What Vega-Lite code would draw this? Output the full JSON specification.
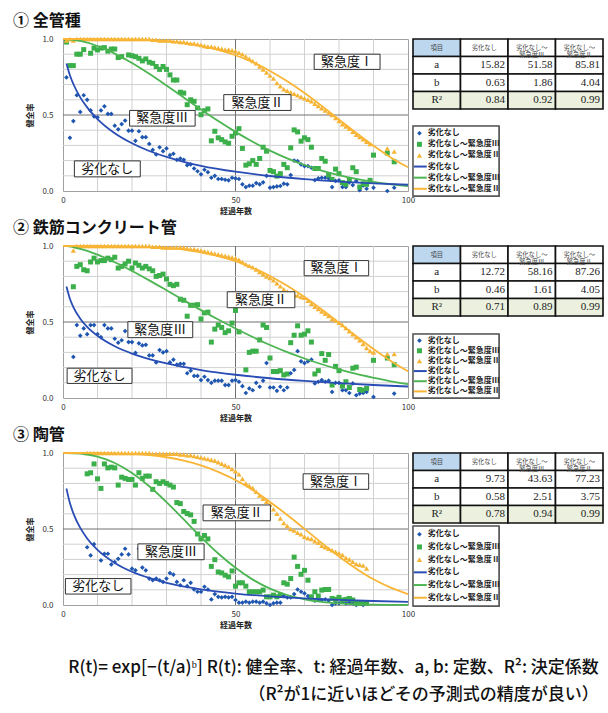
{
"$schema": "https://vega.github.io/schema/vega-lite/v6.json",
"padding": {"left": 12, "top": 12, "right": 2, "bottom": 2},
"bounds": "flush",
"spacing": 207,
"config": {
  "font": "Noto Sans CJK JP",
  "view": {"stroke": "#a0a0a0"},
  "axis": {"labelFontSize": 8, "titleFontSize": 8, "labelColor": "#333", "titleColor": "#222", "titleFontWeight": "bold", "labelFlush": false, "labelOverlap": false, "labelBound": false}
},
"title": {"text": ["R(t)= exp[−(t/a)ᵇ]   R(t): 健全率、t: 経過年数、a, b: 定数、R²: 決定係数", "（R²が1に近いほどその予測式の精度が良い）"], "orient": "bottom", "anchor": "end", "dx": -5, "fontSize": 17, "fontWeight": 500, "lineHeight": 27, "offset": 30, "color": "#111", "font": "Noto Sans CJK JP"},
"datasets": {
"gx": [{"g":10},{"g":20},{"g":30},{"g":40},{"g":50},{"g":60},{"g":70},{"g":80},{"g":90}],
"gy": [{"g":0.1},{"g":0.2},{"g":0.3},{"g":0.4},{"g":0.5},{"g":0.6},{"g":0.7},{"g":0.8},{"g":0.9}],
"leg": [{"k":"a","lab":"劣化なし"},{"k":"b","lab":"劣化なし～緊急度Ⅲ"},{"k":"c","lab":"劣化なし～緊急度Ⅱ"},{"k":"la","lab":"劣化なし"},{"k":"lb","lab":"劣化なし～緊急度Ⅲ"},{"k":"lc","lab":"劣化なし～緊急度Ⅱ"}],
"p1": [
{"t":1,"a":0.747,"b":0.98,"c":0.99},{"t":2,"a":0.35,"b":0.825,"c":1},{"t":3,"a":0.46,"b":0.825,"c":0.99},{"t":4,"a":0.63,"b":0.9,"c":1},{"t":5,"a":0.52,"b":0.9,"c":1},{"t":6,"a":0.63,"b":0.93,"c":1},{"t":7,"a":0.6,"c":1},{"t":8,"a":0.53,"b":0.906,"c":1},{"t":9,"a":0.49,"b":0.94,"c":1},{"t":10,"a":0.485,"b":0.928,"c":1},
{"t":11,"a":0.53,"b":0.94,"c":1},{"t":12,"a":0.557,"b":0.943,"c":1},{"t":13,"a":0.507,"b":0.92,"c":1},{"t":14,"a":0.507,"b":0.934,"c":1},{"t":15,"a":0.43,"b":0.934,"c":1},{"t":16,"a":0.406,"b":0.878,"c":1},{"t":17,"a":0.44,"b":0.884,"c":1},{"t":18,"a":0.463,"c":1},{"t":19,"a":0.397,"b":0.895,"c":1},{"t":20,"a":0.397,"b":0.89,"c":1},
{"t":21,"a":0.33,"b":0.884,"c":1},{"t":22,"a":0.393,"b":0.873,"c":1},{"t":23,"a":0.354,"b":0.856,"c":1},{"t":24,"a":0.354,"b":0.869,"c":1},{"t":25,"a":0.31,"b":0.847,"c":1},{"t":26,"a":0.27,"b":0.84,"c":0.995},{"t":27,"a":0.24,"b":0.819,"c":0.995},{"t":28,"a":0.288,"b":0.8,"c":0.99},{"t":29,"a":0.262,"b":0.819,"c":0.99},{"t":30,"a":0.28,"b":0.8,"c":0.99},
{"t":31,"a":0.236,"b":0.764,"c":0.99},{"t":32,"a":0.245,"b":0.73,"c":0.985},{"t":33,"a":0.205,"b":0.73,"c":0.985},{"t":34,"a":0.214,"b":0.65,"c":0.98},{"t":35,"a":0.205,"b":0.644,"c":0.98},{"t":36,"a":0.17,"b":0.568,"c":0.975},{"t":37,"a":0.175,"b":0.6,"c":0.97},{"t":38,"a":0.148,"b":0.59,"c":0.97},{"t":39,"a":0.13,"b":0.546,"c":0.965},{"t":40,"a":0.11,"b":0.502,"c":0.96},
{"t":41,"a":0.14,"b":0.528,"c":0.955},{"t":42,"a":0.124,"b":0.54,"c":0.95},{"t":43,"a":0.087,"b":0.33,"c":0.95},{"t":44,"a":0.1,"b":0.393,"c":0.945},{"t":45,"a":0.079,"b":0.35,"c":0.94},{"t":46,"a":0.079,"b":0.338,"c":0.935},{"t":47,"a":0.074,"b":0.323,"c":0.93},{"t":48,"a":0.07,"b":0.314,"c":0.93},{"t":49,"a":0.087,"b":0.36,"c":0.925},{"t":50,"a":0.083,"b":0.382,"c":0.92},
{"t":51,"a":0.079,"b":0.41,"c":0.91},{"t":52,"a":0.044,"b":0.28,"c":0.9},{"t":53,"a":0.026,"b":0.17,"c":0.885},{"t":54,"a":0.035,"b":0.179,"c":0.87},{"t":55,"a":0.035,"b":0.2,"c":0.855},{"t":56,"a":0.052,"b":0.175,"c":0.84},{"t":57,"a":0.044,"b":0.214,"c":0.82},{"t":58,"a":0.057,"b":0.288,"c":0.8},{"t":59,"a":0.1,"b":0.262,"c":0.78},{"t":60,"a":0.022,"b":0.135,"c":0.76},
{"t":61,"a":0.026,"b":0.127,"c":0.74},{"t":62,"a":0.03,"b":0.098,"c":0.71},{"t":63,"a":0.033,"b":0.114,"c":0.69},{"t":64,"a":0.048,"b":0.175,"c":0.67},{"t":65,"a":0.044,"b":0.153,"c":0.66},{"t":66,"a":0.105,"b":0.284,"c":0.65},{"t":67,"a":0.2,"b":0.402,"c":0.64},{"t":68,"a":0.196,"b":0.389,"c":0.63},{"t":69,"a":0.175,"b":0.328,"c":0.62},{"t":70,"a":0.164,"b":0.35,"c":0.61},
{"t":71,"a":0.164,"b":0.338,"c":0.6},{"t":72,"a":0.153,"b":0.288,"c":0.59},{"t":73,"a":0.072,"b":0.148,"c":0.575},{"t":74,"a":0.083,"b":0.148,"c":0.56},{"t":75,"a":0.087,"b":0.214,"c":0.545},{"t":76,"a":0.087,"b":0.196,"c":0.53},{"t":77,"a":0.083,"b":0.105,"c":0.515},{"t":78,"a":0.026,"b":0.076,"c":0.5},{"t":79,"a":0.066,"b":0.144,"c":0.48},{"t":80,"a":0.07,"b":0.114,"c":0.46},
{"t":81,"a":0.026,"b":0.055,"c":0.44},{"t":82,"a":0.026,"b":0.044,"c":0.425},{"t":83,"a":0.057,"b":0.076,"c":0.41},{"t":84,"a":0.039,"b":0.153,"c":0.39},{"t":85,"a":0.066,"b":0.127,"c":0.37},{"t":86,"a":0.005,"b":0.026,"c":0.355},{"t":87,"a":0.037,"b":0.048,"c":0.34},{"t":88,"a":0.015,"b":0.044,"c":0.325},{"t":89,"b":0.07,"c":0.31},{"t":90,"a":0.022,"b":0.236},
{"t":94,"a":0,"b":0.249,"c":0.28},{"t":96,"a":0.022,"b":0.192,"c":0.26}
],
"p2": [
{"t":3,"a":0.27,"b":0.732,"c":0.97},{"t":4,"a":0.48,"b":0.866,"c":1},{"t":5,"a":0.41,"b":0.877,"c":1},{"t":6,"a":0.458,"b":0.844,"c":1},{"t":7,"a":0.42,"b":0.837,"c":1},{"t":8,"a":0.48,"b":0.895,"c":1},{"t":9,"a":0.48,"b":0.92,"c":1},{"t":10,"a":0.42,"b":0.895,"c":1},
{"t":11,"a":0.4,"b":0.904,"c":1},{"t":12,"a":0.48,"b":0.904,"c":1},{"t":13,"a":0.458,"b":0.92,"c":1},{"t":14,"a":0.458,"b":0.91,"c":1},{"t":15,"a":0.39,"b":0.926,"c":1},{"t":16,"a":0.364,"b":0.855,"c":1},{"t":17,"a":0.38,"b":0.866,"c":1},{"t":18,"a":0.44,"b":0.882,"c":1},{"t":19,"a":0.368,"b":0.9,"c":1},{"t":20,"a":0.368,"b":0.855,"c":1},
{"t":21,"a":0.297,"b":0.888,"c":1},{"t":22,"a":0.36,"b":0.873,"c":1},{"t":23,"a":0.346,"b":0.855,"c":1},{"t":24,"a":0.35,"b":0.866,"c":1},{"t":25,"a":0.28,"b":0.85,"c":1},{"t":26,"a":0.28,"b":0.837,"c":0.995},{"t":27,"a":0.234,"b":0.8,"c":0.995},{"t":28,"a":0.315,"b":0.806,"c":0.995},{"t":29,"a":0.3,"b":0.815,"c":0.99},{"t":30,"a":0.308,"b":0.783,"c":0.99},
{"t":31,"a":0.234,"b":0.748,"c":0.99},{"t":32,"a":0.252,"b":0.739,"c":0.99},{"t":33,"a":0.219,"b":0.748,"c":0.99},{"t":34,"a":0.225,"b":0.65,"c":0.99},{"t":35,"a":0.225,"b":0.643,"c":0.99},{"t":36,"a":0.163,"b":0.538,"c":0.985},{"t":37,"a":0.18,"b":0.61,"c":0.98},{"t":38,"a":0.145,"b":0.61,"c":0.98},{"t":39,"a":0.145,"b":0.614,"c":0.975},{"t":40,"a":0.118,"b":0.52,"c":0.97},
{"t":41,"a":0.14,"b":0.56,"c":0.965},{"t":42,"a":0.118,"b":0.565,"c":0.96},{"t":43,"a":0.1,"b":0.368,"c":0.955},{"t":44,"a":0.114,"b":0.453,"c":0.95},{"t":45,"a":0.114,"b":0.48,"c":0.945},{"t":46,"a":0.114,"b":0.464,"c":0.94},{"t":47,"a":0.085,"b":0.43,"c":0.935},{"t":48,"a":0.085,"b":0.442,"c":0.93},{"t":49,"a":0.114,"b":0.493,"c":0.925},{"t":50,"a":0.118,"b":0.576,"c":0.92},
{"t":51,"a":0.107,"b":0.435,"c":0.91},{"t":52,"a":0.078,"c":0.895},{"t":53,"a":0.033,"b":0.185,"c":0.88},{"t":54,"a":0.063,"b":0.3,"c":0.87},{"t":55,"a":0.051,"b":0.308,"c":0.86},{"t":56,"a":0.1,"b":0.308,"c":0.845},{"t":57,"a":0.074,"b":0.382,"c":0.83},{"t":58,"a":0.114,"b":0.48,"c":0.815},{"t":59,"a":0.23,"b":0.464,"c":0.8},{"t":60,"a":0.069,"b":0.263,"c":0.79},
{"t":61,"a":0.069,"b":0.174,"c":0.775},{"t":62,"a":0.047,"b":0.174,"c":0.755},{"t":63,"a":0.074,"b":0.18,"c":0.735},{"t":64,"a":0.051,"b":0.152,"c":0.715},{"t":65,"a":0.069,"b":0.158,"c":0.7},{"t":66,"a":0.163,"b":0.364,"c":0.69},{"t":67,"a":0.185,"b":0.413,"c":0.68},{"t":68,"a":0.308,"b":0.475,"c":0.675},{"t":69,"a":0.241,"b":0.413,"c":0.665},{"t":70,"a":0.23,"b":0.42,"c":0.66},
{"t":71,"a":0.241,"b":0.442,"c":0.64},{"t":72,"a":0.252,"b":0.368,"c":0.62},{"t":73,"a":0.096,"b":0.158,"c":0.6},{"t":74,"a":0.107,"b":0.18,"c":0.585},{"t":75,"a":0.118,"b":0.292,"c":0.57},{"t":76,"a":0.107,"b":0.248,"c":0.555},{"t":77,"a":0.114,"b":0.286,"c":0.54},{"t":78,"a":0.04,"b":0.085,"c":0.52},{"t":79,"a":0.1,"b":0.208,"c":0.51},{"t":80,"a":0.1,"b":0.18,"c":0.495},
{"t":81,"a":0.051,"b":0.078,"c":0.48},{"t":82,"a":0.051,"b":0.107,"c":0.46},{"t":83,"a":0.033,"b":0.069,"c":0.44},{"t":84,"a":0.096,"b":0.196,"c":0.42},{"t":85,"a":0.018,"b":0.203,"c":0.4},{"t":86,"a":0.029,"b":0.056,"c":0.38},{"t":87,"a":0.033,"b":0.051,"c":0.355},{"t":88,"a":0.04,"b":0.063,"c":0.33},{"t":89,"c":0.31},{"t":90,"a":0.007,"b":0.248,"c":0.3},
{"t":94,"b":0.263,"c":0.29},{"t":96,"a":0.029,"b":0.219,"c":0.29}
],
"p3": [
{"t":7,"a":0.38,"b":0.863,"c":1},{"t":8,"a":0.326,"b":0.87,"c":1},{"t":9,"a":0.4,"b":0.928,"c":1},{"t":10,"b":0.83,"c":1},
{"t":11,"a":0.293,"b":0.767,"c":1},{"t":12,"a":0.337,"b":0.928,"c":1},{"t":13,"a":0.337,"b":0.902,"c":1},{"t":14,"a":0.267,"b":0.907,"c":1},{"t":15,"a":0.283,"b":0.902,"c":1},{"t":16,"a":0.304,"b":0.789,"c":1},{"t":17,"a":0.333,"b":0.841,"c":1},{"t":18,"a":0.37,"b":0.833,"c":1},{"t":19,"a":0.333,"b":0.826,"c":1},{"t":20,"a":0.239,"b":0.826,"c":1},
{"t":21,"a":0.228,"b":0.789,"c":1},{"t":22,"a":0.37,"b":0.87,"c":1},{"t":23,"a":0.246,"b":0.833,"c":1},{"t":24,"a":0.228,"b":0.848,"c":1},{"t":25,"a":0.174,"b":0.848,"c":1},{"t":26,"a":0.163,"b":0.761,"c":0.995},{"t":27,"a":0.174,"b":0.811,"c":0.995},{"t":28,"a":0.163,"b":0.8,"c":0.995},{"t":29,"a":0.152,"b":0.811,"c":0.995},{"t":30,"a":0.174,"b":0.8,"c":0.995},
{"t":31,"a":0.21,"b":0.789,"c":0.995},{"t":32,"a":0.2,"b":0.776,"c":0.995},{"t":33,"a":0.152,"b":0.674,"c":0.995},{"t":34,"a":0.13,"b":0.667,"c":0.99},{"t":35,"a":0.163,"b":0.615,"c":0.99},{"t":36,"a":0.124,"b":0.602,"c":0.985},{"t":37,"a":0.146,"b":0.593,"c":0.985},{"t":38,"a":0.102,"b":0.55,"c":0.98},{"t":39,"a":0.087,"b":0.467,"c":0.975},{"t":40,"a":0.087,"b":0.435,"c":0.97},
{"t":41,"a":0.12,"b":0.457,"c":0.965},{"t":42,"a":0.102,"b":0.435,"c":0.96},{"t":43,"a":0.037,"b":0.254,"c":0.955},{"t":44,"a":0.072,"b":0.298,"c":0.95},{"t":45,"a":0.054,"b":0.217,"c":0.94},{"t":46,"a":0.05,"b":0.211,"c":0.93},{"t":47,"a":0.054,"b":0.196,"c":0.92},{"t":48,"a":0.05,"b":0.185,"c":0.91},{"t":49,"a":0.054,"b":0.224,"c":0.895},{"t":50,"a":0.033,"b":0.124,"c":0.88},
{"t":51,"a":0.015,"b":0.146,"c":0.86},{"t":52,"a":0.015,"b":0.146,"c":0.83},{"t":53,"a":0.022,"b":0.124,"c":0.8},{"t":54,"a":0.015,"b":0.087,"c":0.785},{"t":55,"a":0.022,"b":0.087,"c":0.77},{"t":56,"a":0.022,"b":0.087,"c":0.745},{"t":57,"a":0.015,"b":0.087,"c":0.72},{"t":58,"a":0.022,"b":0.098,"c":0.7},{"t":59,"a":0.011,"b":0.054,"c":0.68},{"t":60,"a":0,"b":0.054,"c":0.66},
{"t":61,"a":0.011,"b":0.065,"c":0.63},{"t":62,"a":0.015,"b":0.054,"c":0.6},{"t":63,"a":0.015,"b":0.065,"c":0.57},{"t":64,"a":0.059,"b":0.146,"c":0.54},{"t":65,"a":0.05,"b":0.137,"c":0.52},{"t":66,"a":0.05,"b":0.174,"c":0.5},{"t":67,"a":0.072,"b":0.315,"c":0.49},{"t":68,"a":0.102,"b":0.254,"c":0.475},{"t":69,"a":0.087,"b":0.202,"c":0.465},{"t":70,"a":0.076,"b":0.228,"c":0.45},
{"t":71,"a":0.059,"b":0.163,"c":0.44},{"t":72,"a":0.043,"b":0.054,"c":0.435},{"t":73,"a":0.028,"b":0.087,"c":0.42},{"t":74,"a":0.033,"b":0.059,"c":0.41},{"t":75,"a":0.033,"b":0.098,"c":0.39},{"t":76,"a":0.037,"b":0.102,"c":0.38},{"t":77,"a":0.028,"b":0.102,"c":0.37},{"t":78,"a":0,"b":0.043,"c":0.36},{"t":79,"a":0.011,"b":0.037,"c":0.35},{"t":80,"a":0.011,"b":0.05,"c":0.34},
{"t":81,"a":0.022,"b":0.033,"c":0.33},{"t":82,"a":0.011,"b":0.037,"c":0.31},{"t":83,"a":0.015,"b":0.043,"c":0.3},{"t":84,"a":0.011,"b":0.033,"c":0.285},{"t":85,"a":0,"b":0.011,"c":0.27},{"t":86,"a":0.011,"b":0.011,"c":0.265},{"t":87,"a":0,"b":0.015,"c":0.26},{"t":88,"a":0.011,"b":0.011,"c":0.24}
],
"c1": [
{"t":0,"lb":1,"lc":1},{"t":1,"la":0.839,"lb":0.999,"lc":1},{"t":2,"la":0.762},{"t":3,"la":0.704},{"t":5,"la":0.616,"lb":0.987},{"t":7,"la":0.55},{"t":10,"la":0.473,"lb":0.954,"lc":1},{"t":15,"la":0.38,"lb":0.904,"lc":0.999},{"t":20,"la":0.314,"lb":0.842,"lc":0.997},{"t":25,"la":0.263,"lb":0.771,"lc":0.993},{"t":30,"la":0.224,"lb":0.694,"lc":0.986},{"t":35,"la":0.192,"lb":0.615,"lc":0.974},{"t":40,"la":0.166,"lb":0.536,"lc":0.955},{"t":45,"lb":0.46,"lc":0.929},{"t":50,"la":0.127,"lb":0.389,"lc":0.893},{"t":55,"lb":0.324,"lc":0.847},{"t":60,"la":0.0987,"lb":0.266,"lc":0.79},{"t":65,"lb":0.215,"lc":0.722},{"t":70,"la":0.0779,"lb":0.171,"lc":0.645},{"t":75,"lb":0.1345,"lc":0.56},{"t":80,"la":0.0623,"lb":0.1041,"lc":0.471},{"t":85,"lb":0.0795,"lc":0.382},{"t":90,"la":0.0503,"lb":0.0598,"lc":0.297},{"t":95,"lb":0.0444,"lc":0.221},{"t":100,"la":0.041,"lb":0.0325,"lc":0.156}
],
"c2": [
{"t":0,"lb":1,"lc":1},{"t":1,"la":0.733,"lb":0.999,"lc":1},{"t":2,"la":0.653},{"t":3,"la":0.598},{"t":5,"la":0.522,"lb":0.981},{"t":7,"la":0.468},{"t":10,"la":0.409,"lb":0.943,"lc":1},{"t":15,"la":0.34,"lb":0.893,"lc":0.999},{"t":20,"la":0.292,"lb":0.836,"lc":0.997},{"t":25,"la":0.256,"lb":0.774,"lc":0.994},{"t":30,"la":0.227,"lb":0.709,"lc":0.987},{"t":35,"lb":0.643,"lc":0.976},{"t":40,"la":0.184,"lb":0.578,"lc":0.958},{"t":45,"lb":0.516,"lc":0.934},{"t":50,"la":0.153,"lb":0.457,"lc":0.901},{"t":55,"lb":0.401,"lc":0.857},{"t":60,"la":0.13,"lb":0.349,"lc":0.803},{"t":65,"lb":0.302,"lc":0.738},{"t":70,"la":0.112,"lb":0.26,"lc":0.664},{"t":75,"lb":0.222,"lc":0.582},{"t":80,"la":0.0973,"lb":0.188,"lc":0.495},{"t":85,"lb":0.158,"lc":0.407},{"t":90,"la":0.0855,"lb":0.133,"lc":0.322},{"t":95,"lb":0.11,"lc":0.244},{"t":100,"la":0.0756,"lb":0.0913,"lc":0.176}
],
"c3": [
{"t":0,"lb":1,"lc":1},{"t":1,"la":0.766,"lb":1,"lc":1},{"t":2,"la":0.671},{"t":3,"la":0.603},{"t":5,"la":0.507,"lb":0.996},{"t":7,"la":0.438},{"t":10,"la":0.362,"lb":0.976,"lc":1},{"t":15,"la":0.277,"lb":0.934,"lc":0.998},{"t":20,"la":0.219,"lb":0.868,"lc":0.994},{"t":25,"la":0.178,"lb":0.781,"lc":0.986},{"t":30,"la":0.146,"lb":0.677,"lc":0.972},{"t":35,"lb":0.563,"lc":0.95},{"t":40,"la":0.103,"lb":0.447,"lc":0.919},{"t":45,"lb":0.339,"lc":0.876},{"t":50,"la":0.0755,"lb":0.245,"lc":0.822},{"t":55,"lb":0.167,"lc":0.756},{"t":60,"la":0.0566,"lb":0.108,"lc":0.678},{"t":65,"lb":0.0658,"lc":0.592},{"t":70,"la":0.0432,"lb":0.0378,"lc":0.501},{"t":75,"lb":0.0203,"lc":0.408},{"t":80,"la":0.0336,"lb":0.0102,"lc":0.319},{"t":85,"lb":0.0047,"lc":0.239},{"t":90,"la":0.0264,"lb":0.0021,"lc":0.169},{"t":95,"lb":0.0008,"lc":0.114},{"t":100,"la":0.021,"lb":0.0003,"lc":0.0717}
],
"lab1": [
{"l":"緊急度Ⅰ","x1":72.8,"x2":91.9,"y1":0.8,"y2":0.9,"cx":82.35,"cy":0.85},
{"l":"緊急度Ⅱ","x1":46.6,"x2":66.1,"y1":0.53,"y2":0.634,"cx":56.35,"cy":0.582},
{"l":"緊急度Ⅲ","x1":19.3,"x2":38.3,"y1":0.427,"y2":0.53,"cx":28.8,"cy":0.478},
{"l":"劣化なし","x1":3.3,"x2":22.4,"y1":0.093,"y2":0.198,"cx":12.85,"cy":0.145}
],
"lab2": [
{"l":"緊急度Ⅰ","x1":69.9,"x2":88.6,"y1":0.804,"y2":0.904,"cx":79.25,"cy":0.854},
{"l":"緊急度Ⅱ","x1":47.6,"x2":67.2,"y1":0.594,"y2":0.699,"cx":57.4,"cy":0.646},
{"l":"緊急度Ⅲ","x1":18.8,"x2":37.6,"y1":0.397,"y2":0.502,"cx":28.2,"cy":0.45},
{"l":"劣化なし","x1":1.2,"x2":20,"y1":0.096,"y2":0.196,"cx":10.6,"cy":0.146}
],
"lab3": [
{"l":"緊急度Ⅰ","x1":69.6,"x2":88.6,"y1":0.761,"y2":0.863,"cx":79.1,"cy":0.812},
{"l":"緊急度Ⅱ","x1":40.6,"x2":60.1,"y1":0.554,"y2":0.658,"cx":50.35,"cy":0.606},
{"l":"緊急度Ⅲ","x1":21.7,"x2":40.9,"y1":0.298,"y2":0.402,"cx":31.3,"cy":0.35},
{"l":"劣化なし","x1":0.7,"x2":19.7,"y1":0.072,"y2":0.174,"cx":10.2,"cy":0.123}
],
"t1": [
{"c":"c0","r":"h","v":"項目"},{"c":"c1","r":"h","v":"劣化なし"},{"c":"c2","r":"h","v":"劣化なし～\n緊急度Ⅲ"},{"c":"c3","r":"h","v":"劣化なし～\n緊急度Ⅱ"},
{"c":"c0","r":"a","v":"a"},{"c":"c1","r":"a","v":"15.82"},{"c":"c2","r":"a","v":"51.58"},{"c":"c3","r":"a","v":"85.81"},
{"c":"c0","r":"b","v":"b"},{"c":"c1","r":"b","v":"0.63"},{"c":"c2","r":"b","v":"1.86"},{"c":"c3","r":"b","v":"4.04"},
{"c":"c0","r":"R2","v":"R²"},{"c":"c1","r":"R2","v":"0.84"},{"c":"c2","r":"R2","v":"0.92"},{"c":"c3","r":"R2","v":"0.99"}
],
"t2": [
{"c":"c0","r":"h","v":"項目"},{"c":"c1","r":"h","v":"劣化なし"},{"c":"c2","r":"h","v":"劣化なし～\n緊急度Ⅲ"},{"c":"c3","r":"h","v":"劣化なし～\n緊急度Ⅱ"},
{"c":"c0","r":"a","v":"a"},{"c":"c1","r":"a","v":"12.72"},{"c":"c2","r":"a","v":"58.16"},{"c":"c3","r":"a","v":"87.26"},
{"c":"c0","r":"b","v":"b"},{"c":"c1","r":"b","v":"0.46"},{"c":"c2","r":"b","v":"1.61"},{"c":"c3","r":"b","v":"4.05"},
{"c":"c0","r":"R2","v":"R²"},{"c":"c1","r":"R2","v":"0.71"},{"c":"c2","r":"R2","v":"0.89"},{"c":"c3","r":"R2","v":"0.99"}
],
"t3": [
{"c":"c0","r":"h","v":"項目"},{"c":"c1","r":"h","v":"劣化なし"},{"c":"c2","r":"h","v":"劣化なし～\n緊急度Ⅲ"},{"c":"c3","r":"h","v":"劣化なし～\n緊急度Ⅱ"},
{"c":"c0","r":"a","v":"a"},{"c":"c1","r":"a","v":"9.73"},{"c":"c2","r":"a","v":"43.63"},{"c":"c3","r":"a","v":"77.23"},
{"c":"c0","r":"b","v":"b"},{"c":"c1","r":"b","v":"0.58"},{"c":"c2","r":"b","v":"2.51"},{"c":"c3","r":"b","v":"3.75"},
{"c":"c0","r":"R2","v":"R²"},{"c":"c1","r":"R2","v":"0.78"},{"c":"c2","r":"R2","v":"0.94"},{"c":"c3","r":"R2","v":"0.99"}
]
},
"vconcat": [
{"bounds": "flush", "spacing": 5, "hconcat": [
 {"width": 345, "height": 152,
  "title": {"text": "① 全管種", "anchor": "start", "frame": "group", "dx": -50, "fontSize": 16, "fontWeight": "bold", "offset": 6, "color": "#111"},
  "layer": [
   {"data": {"name": "gx"}, "mark": {"type": "rule", "strokeWidth": 1}, "encoding": {"x": {"field": "g", "type": "quantitative"}, "color": {"condition": {"test": "datum.g==50", "value": "#707070"}, "value": "#d0d0d0"}}},
   {"data": {"name": "gy"}, "mark": {"type": "rule", "strokeWidth": 1}, "encoding": {"y": {"field": "g", "type": "quantitative"}, "color": {"condition": {"test": "datum.g==0.5", "value": "#707070"}, "value": "#d0d0d0"}}},
   {"data": {"name": "p1"}, "transform": [{"fold": ["a","b","c"], "as": ["s","r"]}, {"filter": "isValid(datum.r)"}],
    "mark": {"type": "point", "filled": true, "opacity": 1},
    "encoding": {
     "x": {"field": "t", "type": "quantitative", "scale": {"domain": [0,100], "nice": false}, "axis": {"values": [0,50,100], "grid": false, "ticks": false, "domain": false, "labelPadding": 5, "labelOverlap": false, "title": "経過年数", "titlePadding": 3}},
     "y": {"field": "r", "type": "quantitative", "scale": {"domain": [0,1], "nice": false}, "axis": {"values": [0,0.5,1], "format": ".1f", "grid": false, "ticks": false, "domain": false, "labelPadding": 10, "labelOverlap": false, "title": "健全率", "titlePadding": 7}},
     "color": {"field": "s", "type": "nominal", "scale": {"domain": ["a","b","c","la","lb","lc"], "range": ["#1F56B0","#3BAF4A","#F5B436","#2A4DB5","#4CB552","#F9B535"]}, "legend": null},
     "shape": {"field": "s", "type": "nominal", "scale": {"domain": ["a","b","c"], "range": ["diamond","square","triangle-up"]}, "legend": null},
     "size": {"field": "s", "type": "ordinal", "scale": {"domain": ["a","b","c"], "range": [22,28,24]}, "legend": null}
    }},
   {"data": {"name": "c1"}, "transform": [{"fold": ["la","lb","lc"], "as": ["s","r"]}, {"filter": "isValid(datum.r)"}],
    "mark": {"type": "line", "interpolate": "monotone", "strokeWidth": 1.8},
    "encoding": {"x": {"field": "t", "type": "quantitative"}, "y": {"field": "r", "type": "quantitative"}, "color": {"field": "s", "type": "nominal", "legend": null}}},
   {"data": {"name": "lab1"}, "mark": {"type": "rect", "fill": "white", "stroke": "#333", "strokeWidth": 1},
    "encoding": {"x": {"field": "x1", "type": "quantitative"}, "x2": {"field": "x2"}, "y": {"field": "y1", "type": "quantitative"}, "y2": {"field": "y2"}}},
   {"data": {"name": "lab1"}, "mark": {"type": "text", "fontSize": 13, "color": "#111"},
    "encoding": {"x": {"field": "cx", "type": "quantitative"}, "y": {"field": "cy", "type": "quantitative"}, "text": {"field": "l"}}}
  ]},
 {"bounds": "flush", "spacing": 17, "vconcat": [
  {"width": 190, "height": 70, "view": {"stroke": null}, "data": {"name": "t1"},
   "encoding": {"x": {"field": "c", "type": "nominal", "scale": {"domain": ["c0","c1","c2","c3"], "paddingInner": 0, "paddingOuter": 0}, "axis": null},
                "y": {"field": "r", "type": "nominal", "scale": {"domain": ["h","a","b","R2"], "paddingInner": 0, "paddingOuter": 0}, "axis": null}},
   "layer": [
    {"mark": {"type": "rect", "stroke": "#111", "strokeWidth": 1.6}, "encoding": {"fill": {"condition": [{"test": "datum.c=='c0'&&datum.r=='h'", "value": "#BDD7EE"}, {"test": "datum.r=='R2'", "value": "#EBF1DE"}], "value": "#ffffff"}}},
    {"transform": [{"filter": "datum.r=='h'"}], "mark": {"type": "text", "fontSize": 6.3, "color": "#444", "lineBreak": "\n", "lineHeight": 7.5}, "encoding": {"text": {"field": "v"}}},
    {"transform": [{"filter": "datum.c=='c0'&&datum.r!='h'"}], "mark": {"type": "text", "fontSize": 11, "font": "Liberation Serif", "color": "#222"}, "encoding": {"text": {"field": "v"}}},
    {"transform": [{"filter": "datum.c!='c0'&&datum.r!='h'"}], "mark": {"type": "text", "fontSize": 11, "font": "Liberation Serif", "color": "#222", "align": "right", "dx": -3}, "encoding": {"x": {"field": "c", "type": "nominal", "bandPosition": 1}, "text": {"field": "v"}}}
   ]},
  {"width": 86, "height": 70, "view": {"stroke": "#666666", "strokeWidth": 1.2}, "data": {"name": "leg"},
   "layer": [
    {"transform": [{"filter": "datum.k=='a'"}], "mark": {"type": "rect", "fill": "white", "stroke": "#555555", "strokeWidth": 1.5}, "encoding": {"x": {"value": 0}, "x2": {"value": "width"}, "y": {"value": 0}, "y2": {"value": "height"}}},
    {"transform": [{"filter": "datum.k=='a'||datum.k=='b'||datum.k=='c'"}], "mark": {"type": "point", "filled": true, "opacity": 1},
     "encoding": {"y": {"field": "k", "type": "nominal", "scale": {"domain": ["a","b","c","la","lb","lc"], "paddingInner": 0, "paddingOuter": 0.15}, "axis": null}, "x": {"datum": 0.075, "type": "quantitative", "scale": {"domain": [0,1]}, "axis": null}, "color": {"field": "k", "type": "nominal", "legend": null}, "shape": {"field": "k", "type": "nominal", "legend": null}, "size": {"field": "k", "type": "ordinal", "legend": null}}},
    {"transform": [{"filter": "datum.k=='la'||datum.k=='lb'||datum.k=='lc'"}], "mark": {"type": "rule", "strokeWidth": 2},
     "encoding": {"y": {"field": "k", "type": "nominal"}, "x": {"datum": 0.01, "type": "quantitative"}, "x2": {"datum": 0.16}, "color": {"field": "k", "type": "nominal", "legend": null}}},
    {"mark": {"type": "text", "align": "left", "fontSize": 8, "fontWeight": "bold", "color": "#222", "dx": 1},
     "encoding": {"y": {"field": "k", "type": "nominal"}, "x": {"datum": 0.16, "type": "quantitative"}, "text": {"field": "lab"}}}
   ]}
 ]}
]},
{"bounds": "flush", "spacing": 5, "hconcat": [
 {"width": 345, "height": 152,
  "title": {"text": "② 鉄筋コンクリート管", "anchor": "start", "frame": "group", "dx": -50, "fontSize": 16, "fontWeight": "bold", "offset": 6, "color": "#111"},
  "layer": [
   {"data": {"name": "gx"}, "mark": {"type": "rule", "strokeWidth": 1}, "encoding": {"x": {"field": "g", "type": "quantitative"}, "color": {"condition": {"test": "datum.g==50", "value": "#707070"}, "value": "#d0d0d0"}}},
   {"data": {"name": "gy"}, "mark": {"type": "rule", "strokeWidth": 1}, "encoding": {"y": {"field": "g", "type": "quantitative"}, "color": {"condition": {"test": "datum.g==0.5", "value": "#707070"}, "value": "#d0d0d0"}}},
   {"data": {"name": "p2"}, "transform": [{"fold": ["a","b","c"], "as": ["s","r"]}, {"filter": "isValid(datum.r)"}],
    "mark": {"type": "point", "filled": true, "opacity": 1},
    "encoding": {
     "x": {"field": "t", "type": "quantitative", "scale": {"domain": [0,100], "nice": false}, "axis": {"values": [0,50,100], "grid": false, "ticks": false, "domain": false, "labelPadding": 5, "labelOverlap": false, "title": "経過年数", "titlePadding": 3}},
     "y": {"field": "r", "type": "quantitative", "scale": {"domain": [0,1], "nice": false}, "axis": {"values": [0,0.5,1], "format": ".1f", "grid": false, "ticks": false, "domain": false, "labelPadding": 10, "labelOverlap": false, "title": "健全率", "titlePadding": 7}},
     "color": {"field": "s", "type": "nominal", "legend": null},
     "shape": {"field": "s", "type": "nominal", "legend": null},
     "size": {"field": "s", "type": "ordinal", "legend": null}
    }},
   {"data": {"name": "c2"}, "transform": [{"fold": ["la","lb","lc"], "as": ["s","r"]}, {"filter": "isValid(datum.r)"}],
    "mark": {"type": "line", "interpolate": "monotone", "strokeWidth": 1.8},
    "encoding": {"x": {"field": "t", "type": "quantitative"}, "y": {"field": "r", "type": "quantitative"}, "color": {"field": "s", "type": "nominal", "legend": null}}},
   {"data": {"name": "lab2"}, "mark": {"type": "rect", "fill": "white", "stroke": "#333", "strokeWidth": 1},
    "encoding": {"x": {"field": "x1", "type": "quantitative"}, "x2": {"field": "x2"}, "y": {"field": "y1", "type": "quantitative"}, "y2": {"field": "y2"}}},
   {"data": {"name": "lab2"}, "mark": {"type": "text", "fontSize": 13, "color": "#111"},
    "encoding": {"x": {"field": "cx", "type": "quantitative"}, "y": {"field": "cy", "type": "quantitative"}, "text": {"field": "l"}}}
  ]},
 {"bounds": "flush", "spacing": 18, "vconcat": [
  {"width": 190, "height": 70, "view": {"stroke": null}, "data": {"name": "t2"},
   "encoding": {"x": {"field": "c", "type": "nominal", "scale": {"domain": ["c0","c1","c2","c3"], "paddingInner": 0, "paddingOuter": 0}, "axis": null},
                "y": {"field": "r", "type": "nominal", "scale": {"domain": ["h","a","b","R2"], "paddingInner": 0, "paddingOuter": 0}, "axis": null}},
   "layer": [
    {"mark": {"type": "rect", "stroke": "#111", "strokeWidth": 1.6}, "encoding": {"fill": {"condition": [{"test": "datum.c=='c0'&&datum.r=='h'", "value": "#BDD7EE"}, {"test": "datum.r=='R2'", "value": "#EBF1DE"}], "value": "#ffffff"}}},
    {"transform": [{"filter": "datum.r=='h'"}], "mark": {"type": "text", "fontSize": 6.3, "color": "#444", "lineBreak": "\n", "lineHeight": 7.5}, "encoding": {"text": {"field": "v"}}},
    {"transform": [{"filter": "datum.c=='c0'&&datum.r!='h'"}], "mark": {"type": "text", "fontSize": 11, "font": "Liberation Serif", "color": "#222"}, "encoding": {"text": {"field": "v"}}},
    {"transform": [{"filter": "datum.c!='c0'&&datum.r!='h'"}], "mark": {"type": "text", "fontSize": 11, "font": "Liberation Serif", "color": "#222", "align": "right", "dx": -3}, "encoding": {"x": {"field": "c", "type": "nominal", "bandPosition": 1}, "text": {"field": "v"}}}
   ]},
  {"width": 86, "height": 64, "view": {"stroke": "#666666", "strokeWidth": 1.2}, "data": {"name": "leg"},
   "layer": [
    {"transform": [{"filter": "datum.k=='a'"}], "mark": {"type": "rect", "fill": "white", "stroke": "#555555", "strokeWidth": 1.5}, "encoding": {"x": {"value": 0}, "x2": {"value": "width"}, "y": {"value": 0}, "y2": {"value": "height"}}},
    {"transform": [{"filter": "datum.k=='a'||datum.k=='b'||datum.k=='c'"}], "mark": {"type": "point", "filled": true, "opacity": 1},
     "encoding": {"y": {"field": "k", "type": "nominal", "scale": {"domain": ["a","b","c","la","lb","lc"], "paddingInner": 0, "paddingOuter": 0.15}, "axis": null}, "x": {"datum": 0.075, "type": "quantitative", "scale": {"domain": [0,1]}, "axis": null}, "color": {"field": "k", "type": "nominal", "legend": null}, "shape": {"field": "k", "type": "nominal", "legend": null}, "size": {"field": "k", "type": "ordinal", "legend": null}}},
    {"transform": [{"filter": "datum.k=='la'||datum.k=='lb'||datum.k=='lc'"}], "mark": {"type": "rule", "strokeWidth": 2},
     "encoding": {"y": {"field": "k", "type": "nominal"}, "x": {"datum": 0.01, "type": "quantitative"}, "x2": {"datum": 0.16}, "color": {"field": "k", "type": "nominal", "legend": null}}},
    {"mark": {"type": "text", "align": "left", "fontSize": 8, "fontWeight": "bold", "color": "#222", "dx": 1},
     "encoding": {"y": {"field": "k", "type": "nominal"}, "x": {"datum": 0.16, "type": "quantitative"}, "text": {"field": "lab"}}}
   ]}
 ]}
]},
{"bounds": "flush", "spacing": 5, "hconcat": [
 {"width": 345, "height": 152,
  "title": {"text": "③ 陶管", "anchor": "start", "frame": "group", "dx": -50, "fontSize": 16, "fontWeight": "bold", "offset": 6, "color": "#111"},
  "layer": [
   {"data": {"name": "gx"}, "mark": {"type": "rule", "strokeWidth": 1}, "encoding": {"x": {"field": "g", "type": "quantitative"}, "color": {"condition": {"test": "datum.g==50", "value": "#707070"}, "value": "#d0d0d0"}}},
   {"data": {"name": "gy"}, "mark": {"type": "rule", "strokeWidth": 1}, "encoding": {"y": {"field": "g", "type": "quantitative"}, "color": {"condition": {"test": "datum.g==0.5", "value": "#707070"}, "value": "#d0d0d0"}}},
   {"data": {"name": "p3"}, "transform": [{"fold": ["a","b","c"], "as": ["s","r"]}, {"filter": "isValid(datum.r)"}],
    "mark": {"type": "point", "filled": true, "opacity": 1},
    "encoding": {
     "x": {"field": "t", "type": "quantitative", "scale": {"domain": [0,100], "nice": false}, "axis": {"values": [0,50,100], "grid": false, "ticks": false, "domain": false, "labelPadding": 5, "labelOverlap": false, "title": "経過年数", "titlePadding": 3}},
     "y": {"field": "r", "type": "quantitative", "scale": {"domain": [0,1], "nice": false}, "axis": {"values": [0,0.5,1], "format": ".1f", "grid": false, "ticks": false, "domain": false, "labelPadding": 10, "labelOverlap": false, "title": "健全率", "titlePadding": 7}},
     "color": {"field": "s", "type": "nominal", "legend": null},
     "shape": {"field": "s", "type": "nominal", "legend": null},
     "size": {"field": "s", "type": "ordinal", "legend": null}
    }},
   {"data": {"name": "c3"}, "transform": [{"fold": ["la","lb","lc"], "as": ["s","r"]}, {"filter": "isValid(datum.r)"}],
    "mark": {"type": "line", "interpolate": "monotone", "strokeWidth": 1.8},
    "encoding": {"x": {"field": "t", "type": "quantitative"}, "y": {"field": "r", "type": "quantitative"}, "color": {"field": "s", "type": "nominal", "legend": null}}},
   {"data": {"name": "lab3"}, "mark": {"type": "rect", "fill": "white", "stroke": "#333", "strokeWidth": 1},
    "encoding": {"x": {"field": "x1", "type": "quantitative"}, "x2": {"field": "x2"}, "y": {"field": "y1", "type": "quantitative"}, "y2": {"field": "y2"}}},
   {"data": {"name": "lab3"}, "mark": {"type": "text", "fontSize": 13, "color": "#111"},
    "encoding": {"x": {"field": "cx", "type": "quantitative"}, "y": {"field": "cy", "type": "quantitative"}, "text": {"field": "l"}}}
  ]},
 {"bounds": "flush", "spacing": 3, "vconcat": [
  {"width": 190, "height": 70, "view": {"stroke": null}, "data": {"name": "t3"},
   "encoding": {"x": {"field": "c", "type": "nominal", "scale": {"domain": ["c0","c1","c2","c3"], "paddingInner": 0, "paddingOuter": 0}, "axis": null},
                "y": {"field": "r", "type": "nominal", "scale": {"domain": ["h","a","b","R2"], "paddingInner": 0, "paddingOuter": 0}, "axis": null}},
   "layer": [
    {"mark": {"type": "rect", "stroke": "#111", "strokeWidth": 1.6}, "encoding": {"fill": {"condition": [{"test": "datum.c=='c0'&&datum.r=='h'", "value": "#BDD7EE"}, {"test": "datum.r=='R2'", "value": "#EBF1DE"}], "value": "#ffffff"}}},
    {"transform": [{"filter": "datum.r=='h'"}], "mark": {"type": "text", "fontSize": 6.3, "color": "#444", "lineBreak": "\n", "lineHeight": 7.5}, "encoding": {"text": {"field": "v"}}},
    {"transform": [{"filter": "datum.c=='c0'&&datum.r!='h'"}], "mark": {"type": "text", "fontSize": 11, "font": "Liberation Serif", "color": "#222"}, "encoding": {"text": {"field": "v"}}},
    {"transform": [{"filter": "datum.c!='c0'&&datum.r!='h'"}], "mark": {"type": "text", "fontSize": 11, "font": "Liberation Serif", "color": "#222", "align": "right", "dx": -3}, "encoding": {"x": {"field": "c", "type": "nominal", "bandPosition": 1}, "text": {"field": "v"}}}
   ]},
  {"width": 86, "height": 80, "view": {"stroke": "#666666", "strokeWidth": 1.2}, "data": {"name": "leg"},
   "layer": [
    {"transform": [{"filter": "datum.k=='a'"}], "mark": {"type": "rect", "fill": "white", "stroke": "#555555", "strokeWidth": 1.5}, "encoding": {"x": {"value": 0}, "x2": {"value": "width"}, "y": {"value": 0}, "y2": {"value": "height"}}},
    {"transform": [{"filter": "datum.k=='a'||datum.k=='b'||datum.k=='c'"}], "mark": {"type": "point", "filled": true, "opacity": 1},
     "encoding": {"y": {"field": "k", "type": "nominal", "scale": {"domain": ["a","b","c","la","lb","lc"], "paddingInner": 0, "paddingOuter": 0.15}, "axis": null}, "x": {"datum": 0.075, "type": "quantitative", "scale": {"domain": [0,1]}, "axis": null}, "color": {"field": "k", "type": "nominal", "legend": null}, "shape": {"field": "k", "type": "nominal", "legend": null}, "size": {"field": "k", "type": "ordinal", "legend": null}}},
    {"transform": [{"filter": "datum.k=='la'||datum.k=='lb'||datum.k=='lc'"}], "mark": {"type": "rule", "strokeWidth": 2},
     "encoding": {"y": {"field": "k", "type": "nominal"}, "x": {"datum": 0.01, "type": "quantitative"}, "x2": {"datum": 0.16}, "color": {"field": "k", "type": "nominal", "legend": null}}},
    {"mark": {"type": "text", "align": "left", "fontSize": 8, "fontWeight": "bold", "color": "#222", "dx": 1},
     "encoding": {"y": {"field": "k", "type": "nominal"}, "x": {"datum": 0.16, "type": "quantitative"}, "text": {"field": "lab"}}}
   ]}
 ]}
]}
]
}
